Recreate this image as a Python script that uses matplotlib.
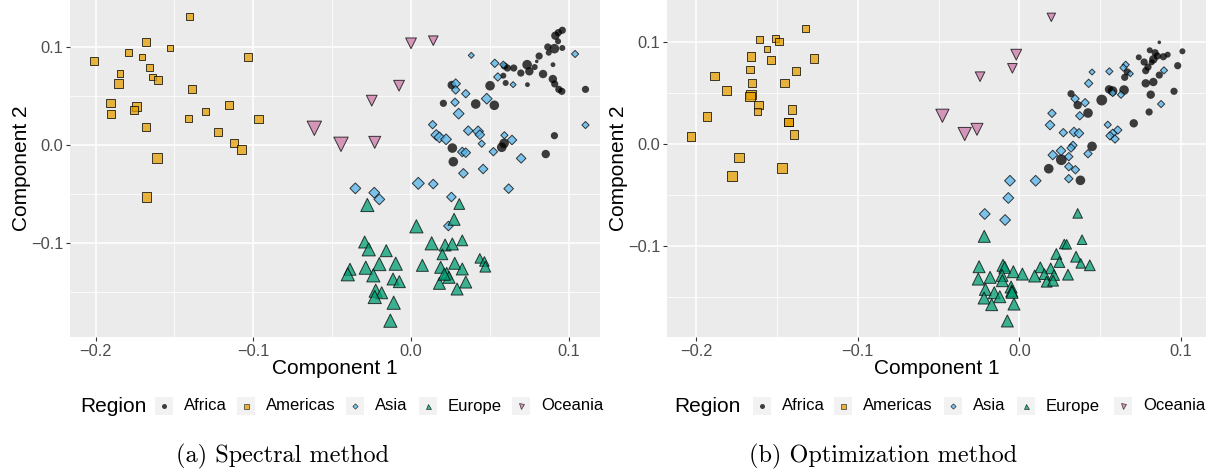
import matplotlib
matplotlib.use("Agg")
import matplotlib.pyplot as plt
from matplotlib.patches import Rectangle
from matplotlib.lines import Line2D

# ---------------------------------------------------------------------------
# Embedding coordinates: (component 1, component 2, relative point size)
# ---------------------------------------------------------------------------
spectral_africa = [
    (0.0959, 0.1167, 6), (0.0934, 0.1143, 6), (0.0915, 0.1112, 7), (0.0932, 0.1055, 5),
    (0.0867, 0.0997, 6), (0.0909, 0.0980, 8), (0.0959, 0.0987, 5), (0.0873, 0.0939, 5),
    (0.0812, 0.0905, 6), (0.0797, 0.0851, 3), (0.0736, 0.0817, 8), (0.0900, 0.0817, 4),
    (0.0784, 0.0793, 5), (0.0651, 0.0783, 6), (0.0611, 0.0783, 6), (0.0592, 0.0804, 6),
    (0.0750, 0.0750, 7), (0.0696, 0.0732, 6), (0.0837, 0.0722, 7), (0.0585, 0.0705, 5),
    (0.0899, 0.0671, 7), (0.0911, 0.0621, 6), (0.0600, 0.0631, 5), (0.0738, 0.0614, 4),
    (0.0501, 0.0603, 8), (0.0937, 0.0566, 6), (0.0956, 0.0546, 6), (0.1106, 0.0566, 6),
    (0.0258, 0.0610, 7), (0.0205, 0.0424, 6), (0.0410, 0.0417, 8), (0.0528, 0.0404, 8),
    (0.0909, 0.0095, 6), (0.0854, -0.0092, 7), (0.0590, 0.0017, 8), (0.0575, -0.0023, 8),
    (0.0262, -0.0031, 8), (0.0268, -0.0170, 8),
]
spectral_americas = [
    (-0.1406, 0.1305, 6), (-0.1678, 0.1048, 6.7), (-0.1530, 0.0987, 5.3), (-0.1793, 0.0939, 6),
    (-0.2008, 0.0858, 6.7), (-0.1704, 0.0892, 5.3), (-0.1034, 0.0892, 6.7), (-0.1659, 0.0787, 6),
    (-0.1845, 0.0729, 5.7), (-0.1638, 0.0692, 5.7), (-0.1604, 0.0661, 6.7), (-0.1854, 0.0624, 7.3),
    (-0.1389, 0.0573, 6.7), (-0.1904, 0.0427, 7.3), (-0.1739, 0.0394, 7.3), (-0.1758, 0.0356, 6.7),
    (-0.1902, 0.0312, 6.7), (-0.1154, 0.0410, 6.7), (-0.1304, 0.0343, 6), (-0.1410, 0.0272, 6),
    (-0.0966, 0.0264, 7.3), (-0.1682, 0.0180, 6.7), (-0.1224, 0.0135, 6.7), (-0.1122, 0.0023, 6.7),
    (-0.1076, -0.0044, 8), (-0.1609, -0.0132, 8), (-0.1676, -0.0526, 8),
]
spectral_asia = [
    (0.0382, 0.0912, 5), (0.1040, 0.0926, 6), (0.0531, 0.0831, 7), (0.0585, 0.0817, 6),
    (0.0550, 0.0692, 7), (0.0647, 0.0614, 5), (0.0283, 0.0624, 8), (0.0283, 0.0560, 7),
    (0.0347, 0.0522, 7), (0.0480, 0.0471, 9), (0.0279, 0.0434, 7), (0.0302, 0.0319, 9),
    (0.0137, 0.0207, 7), (0.1106, 0.0203, 6), (0.0160, 0.0102, 9), (0.0180, 0.0078, 9),
    (0.0222, 0.0058, 9), (0.0363, 0.0146, 8), (0.0425, 0.0139, 9), (0.0436, 0.0105, 8),
    (0.0592, 0.0099, 6), (0.0640, 0.0051, 8), (0.0448, 0.0013, 6), (0.0325, -0.0071, 8),
    (0.0347, -0.0078, 8), (0.0522, -0.0068, 7), (0.0698, -0.0136, 8), (0.0457, -0.0244, 8),
    (0.0332, -0.0288, 8), (-0.0353, -0.0441, 9), (-0.0233, -0.0485, 9), (-0.0201, -0.0553, 9),
    (0.0046, -0.0390, 10), (0.0141, -0.0397, 8), (0.0256, -0.0529, 8), (0.0619, -0.0444, 8),
    (0.0237, -0.0824, 8),
]
spectral_europe = [
    (-0.0277, -0.0610, 11), (0.0306, -0.0600, 9), (0.0273, -0.0756, 10), (0.0034, -0.0827, 11),
    (-0.0294, -0.0987, 10), (-0.0268, -0.1061, 11), (-0.0157, -0.1075, 10), (0.0131, -0.1000, 11),
    (0.0216, -0.1017, 10), (0.0262, -0.1007, 10), (0.0325, -0.0970, 9), (0.0199, -0.1112, 9),
    (-0.0387, -0.1264, 10), (-0.0401, -0.1315, 11), (-0.0287, -0.1248, 11), (-0.0201, -0.1211, 11),
    (-0.0097, -0.1207, 11), (-0.0239, -0.1326, 11), (-0.0114, -0.1363, 10), (-0.0074, -0.1390, 10),
    (0.0072, -0.1224, 10), (0.0188, -0.1244, 10), (0.0277, -0.1203, 10), (0.0325, -0.1261, 10),
    (0.0226, -0.1305, 10), (0.0241, -0.1346, 10), (0.0180, -0.1407, 10), (0.0347, -0.1394, 10),
    (0.0292, -0.1465, 10), (0.0436, -0.1153, 8), (0.0465, -0.1184, 8), (0.0471, -0.1238, 9),
    (-0.0224, -0.1482, 11), (-0.0186, -0.1503, 10), (-0.0230, -0.1546, 11), (-0.0110, -0.1604, 11),
    (-0.0131, -0.1787, 11), (0.0211, -0.1315, 10),
]
spectral_oceania = [
    (0.0000, 0.1034, 9), (0.0141, 0.1061, 8), (-0.0076, 0.0603, 9), (-0.0249, 0.0451, 9),
    (-0.0613, 0.0170, 12), (-0.0444, 0.0007, 12), (-0.0230, 0.0027, 10),
]

optim_africa = [
    (0.0866, 0.0997, 3), (0.1009, 0.0909, 5), (0.0807, 0.0919, 5), (0.0840, 0.0895, 6),
    (0.0854, 0.0863, 6), (0.0918, 0.0876, 5), (0.0891, 0.0856, 6), (0.0829, 0.0830, 7),
    (0.0739, 0.0850, 5), (0.0772, 0.0804, 6), (0.0819, 0.0801, 5), (0.0796, 0.0755, 6),
    (0.0782, 0.0719, 6), (0.0980, 0.0768, 6), (0.0866, 0.0676, 6), (0.0668, 0.0706, 6),
    (0.0652, 0.0654, 6), (0.0782, 0.0595, 7), (0.0829, 0.0608, 7), (0.0957, 0.0517, 6),
    (0.0813, 0.0484, 7), (0.0320, 0.0493, 6), (0.0361, 0.0382, 7), (0.0425, 0.0304, 8),
    (0.0510, 0.0431, 9), (0.0555, 0.0536, 7), (0.0577, 0.0520, 8), (0.0648, 0.0529, 8),
    (0.0803, 0.0314, 6), (0.0708, 0.0203, 7), (0.0450, -0.0023, 8), (0.0260, -0.0154, 9),
    (0.0182, -0.0242, 8), (0.0378, -0.0356, 8),
]
optim_americas = [
    (-0.1324, 0.1134, 6), (-0.1609, 0.1023, 6), (-0.1507, 0.1036, 6), (-0.1487, 0.1003, 6),
    (-0.1561, 0.0931, 5), (-0.1662, 0.0860, 7), (-0.1536, 0.0826, 7), (-0.1270, 0.0837, 7),
    (-0.1667, 0.0728, 6), (-0.1382, 0.0716, 6), (-0.1885, 0.0667, 7), (-0.1654, 0.0598, 7),
    (-0.1452, 0.0598, 7), (-0.1813, 0.0523, 7), (-0.1660, 0.0484, 8), (-0.1665, 0.0467, 8),
    (-0.1613, 0.0382, 7), (-0.1621, 0.0320, 6), (-0.1407, 0.0340, 7), (-0.1931, 0.0268, 7),
    (-0.1427, 0.0216, 7), (-0.1427, 0.0216, 7), (-0.1394, 0.0095, 7), (-0.2030, 0.0075, 7),
    (-0.1735, -0.0134, 8), (-0.1467, -0.0235, 8), (-0.1776, -0.0311, 8),
]
optim_asia = [
    (0.0658, 0.0777, 6), (0.0644, 0.0748, 6), (0.0687, 0.0689, 5), (0.0450, 0.0706, 5),
    (0.0557, 0.0712, 6), (0.0895, 0.0722, 6), (0.0429, 0.0595, 7), (0.0578, 0.0500, 6),
    (0.0629, 0.0483, 6), (0.0877, 0.0392, 6), (0.0345, 0.0444, 7), (0.0407, 0.0405, 7),
    (0.0202, 0.0301, 7), (0.0374, 0.0277, 7), (0.0190, 0.0186, 8), (0.0272, 0.0111, 7),
    (0.0338, 0.0118, 8), (0.0369, 0.0105, 8), (0.0547, 0.0189, 6), (0.0609, 0.0137, 7),
    (0.0578, 0.0105, 7), (0.0561, 0.0081, 7), (0.0592, 0.0049, 7), (0.0332, -0.0013, 7),
    (0.0320, -0.0039, 7), (0.0258, -0.0066, 8), (0.0207, -0.0108, 8), (0.0306, -0.0124, 7),
    (0.0425, -0.0095, 7), (0.0306, -0.0222, 7), (0.0347, -0.0252, 7), (0.0306, -0.0340, 7),
    (-0.0058, -0.0360, 9), (0.0101, -0.0360, 9), (-0.0068, -0.0529, 9), (-0.0214, -0.0686, 9),
    (-0.0088, -0.0745, 9),
]
optim_europe = [
    (0.0361, -0.0680, 8), (-0.0217, -0.0905, 10), (0.0388, -0.0938, 8), (0.0278, -0.0980, 8),
    (0.0293, -0.0983, 8), (0.0229, -0.1078, 9), (0.0351, -0.1105, 9), (0.0248, -0.1157, 9),
    (0.0380, -0.1170, 8), (0.0436, -0.1189, 9), (-0.0249, -0.1203, 10), (-0.0101, -0.1189, 10),
    (-0.0090, -0.1209, 10), (-0.0037, -0.1252, 10), (0.0019, -0.1275, 10), (-0.0107, -0.1288, 10),
    (0.0130, -0.1209, 9), (0.0194, -0.1219, 9), (0.0155, -0.1275, 9), (0.0095, -0.1294, 10),
    (0.0215, -0.1284, 9), (0.0301, -0.1281, 9), (0.0169, -0.1350, 9), (0.0209, -0.1340, 9),
    (-0.0254, -0.1324, 10), (-0.0181, -0.1307, 10), (-0.0105, -0.1340, 10), (-0.0210, -0.1425, 10),
    (-0.0155, -0.1458, 10), (-0.0051, -0.1402, 10), (-0.0047, -0.1441, 10), (-0.0218, -0.1510, 10),
    (-0.0121, -0.1497, 10), (-0.0171, -0.1575, 10), (-0.0033, -0.1569, 10), (-0.0074, -0.1735, 10),
    (-0.0045, -0.1454, 10),
]
optim_oceania = [
    (0.0198, 0.1242, 7), (-0.0019, 0.0876, 9), (-0.0043, 0.0742, 8), (-0.0243, 0.0660, 8),
    (-0.0476, 0.0277, 11), (-0.0338, 0.0098, 11), (-0.0262, 0.0144, 10),
]

regions = ["Africa", "Americas", "Asia", "Europe", "Oceania"]
x_ticks = [-0.2, -0.1, 0.0, 0.1]
y_ticks = [-0.1, 0.0, 0.1]
captions = ["(a) Spectral method", "(b) Optimization method"]

# ---------------------------------------------------------------------------
# Styling
# ---------------------------------------------------------------------------
styles = {
    "Africa":   dict(marker="o", face="#000000", edge="none"),
    "Americas": dict(marker="s", face="#E69F00", edge="#000000"),
    "Asia":     dict(marker="D", face="#56B4E9", edge="#000000"),
    "Europe":   dict(marker="^", face="#009E73", edge="#000000"),
    "Oceania":  dict(marker="v", face="#CC79A7", edge="#000000"),
}
ALPHA = 0.75
PANEL_BG = "#EBEBEB"
SANS = "Liberation Sans"
SIZE_SCALE = 1.2
W, H = 1213, 473


def marker_area(marker, size):
    """Map a relative point size to a scatter area in points^2."""
    pts = size * SIZE_SCALE * 0.72
    if marker == "D":
        pts /= 1.414
    return pts ** 2


def fig_box(left, top, right, bottom):
    return [left / W, 1 - bottom / H, (right - left) / W, (bottom - top) / H]


def fmt(v):
    return f"{v:.1f}".replace("-", "\u2212")


fig = plt.figure(figsize=(W / 100, H / 100), dpi=100)

panels = [
    dict(data=[spectral_africa, spectral_americas, spectral_asia, spectral_europe, spectral_oceania],
         box=(70, 0, 600, 337), xlim=(-0.2162, 0.1198), ylim=(-0.1953, 0.1475),
         legend_title_x=80, keys=[164, 246, 355, 428, 521], caption_x=283),
    dict(data=[optim_africa, optim_americas, optim_asia, optim_europe, optim_oceania],
         box=(667, 0, 1206, 337), xlim=(-0.218, 0.1155), ylim=(-0.1892, 0.1412),
         legend_title_x=674, keys=[762, 843, 953, 1026, 1123], caption_x=883),
]

for idx, p in enumerate(panels):
    ax = fig.add_axes(fig_box(*p["box"]))
    ax.set_facecolor(PANEL_BG)
    for name, pts in zip(regions, p["data"]):
        st = styles[name]
        xs = [q[0] for q in pts]
        ys = [q[1] for q in pts]
        ss = [marker_area(st["marker"], q[2]) for q in pts]
        ax.scatter(xs, ys, s=ss, marker=st["marker"], c=st["face"],
                   edgecolors=st["edge"], linewidths=0.7, alpha=ALPHA, zorder=3)
    ax.set_xlim(*p["xlim"])
    ax.set_ylim(*p["ylim"])
    ax.set_xticks(x_ticks)
    ax.set_xticklabels([fmt(t) for t in x_ticks])
    ax.set_yticks(y_ticks)
    ax.set_yticklabels([fmt(t) for t in y_ticks])
    ax.set_xticks([-0.15, -0.05, 0.05], minor=True)
    ax.set_yticks([-0.15, -0.05, 0.05], minor=True)
    ax.grid(which="major", color="white", linewidth=1.1, zorder=0)
    ax.grid(which="minor", color="white", linewidth=0.55, zorder=0)
    ax.set_axisbelow(True)
    for sp in ax.spines.values():
        sp.set_visible(False)
    ax.tick_params(which="major", length=3, width=0.8, color="#333333",
                   labelcolor="#4D4D4D", labelsize=11.8, pad=2)
    ax.tick_params(which="minor", length=0)
    for lab in ax.get_xticklabels() + ax.get_yticklabels():
        lab.set_fontfamily(SANS)
    ax.set_xlabel("Component 1", fontsize=15, fontfamily=SANS, labelpad=0)
    ax.set_ylabel("Component 2", fontsize=15, fontfamily=SANS, labelpad=0)

    # legend row below the panel
    ly = 406
    fig.text(p["legend_title_x"] / W, 1 - ly / H, "Region", fontsize=15,
             fontfamily=SANS, ha="left", va="center")
    for name, kx in zip(regions, p["keys"]):
        st = styles[name]
        fig.add_artist(Rectangle(((kx - 9) / W, 1 - (ly + 9) / H), 18 / W, 18 / H,
                                 transform=fig.transFigure, facecolor="#F2F2F2",
                                 edgecolor="none"))
        fig.add_artist(Line2D([kx / W], [1 - ly / H], transform=fig.transFigure,
                              marker=st["marker"], markersize=3.6 if st["marker"] != "D" else 2.7,
                              markerfacecolor=st["face"], markeredgecolor=st["edge"],
                              markeredgewidth=0.5, alpha=ALPHA, linestyle="none"))
        fig.text((kx + 20) / W, 1 - ly / H, name, fontsize=12, fontfamily=SANS,
                 ha="left", va="center")

    fig.text(p["caption_x"] / W, 1 - 456 / H, captions[idx], fontsize=17.5,
             fontfamily="cmr10", ha="center", va="center")

fig.savefig("out.png", dpi=100, facecolor="white")
